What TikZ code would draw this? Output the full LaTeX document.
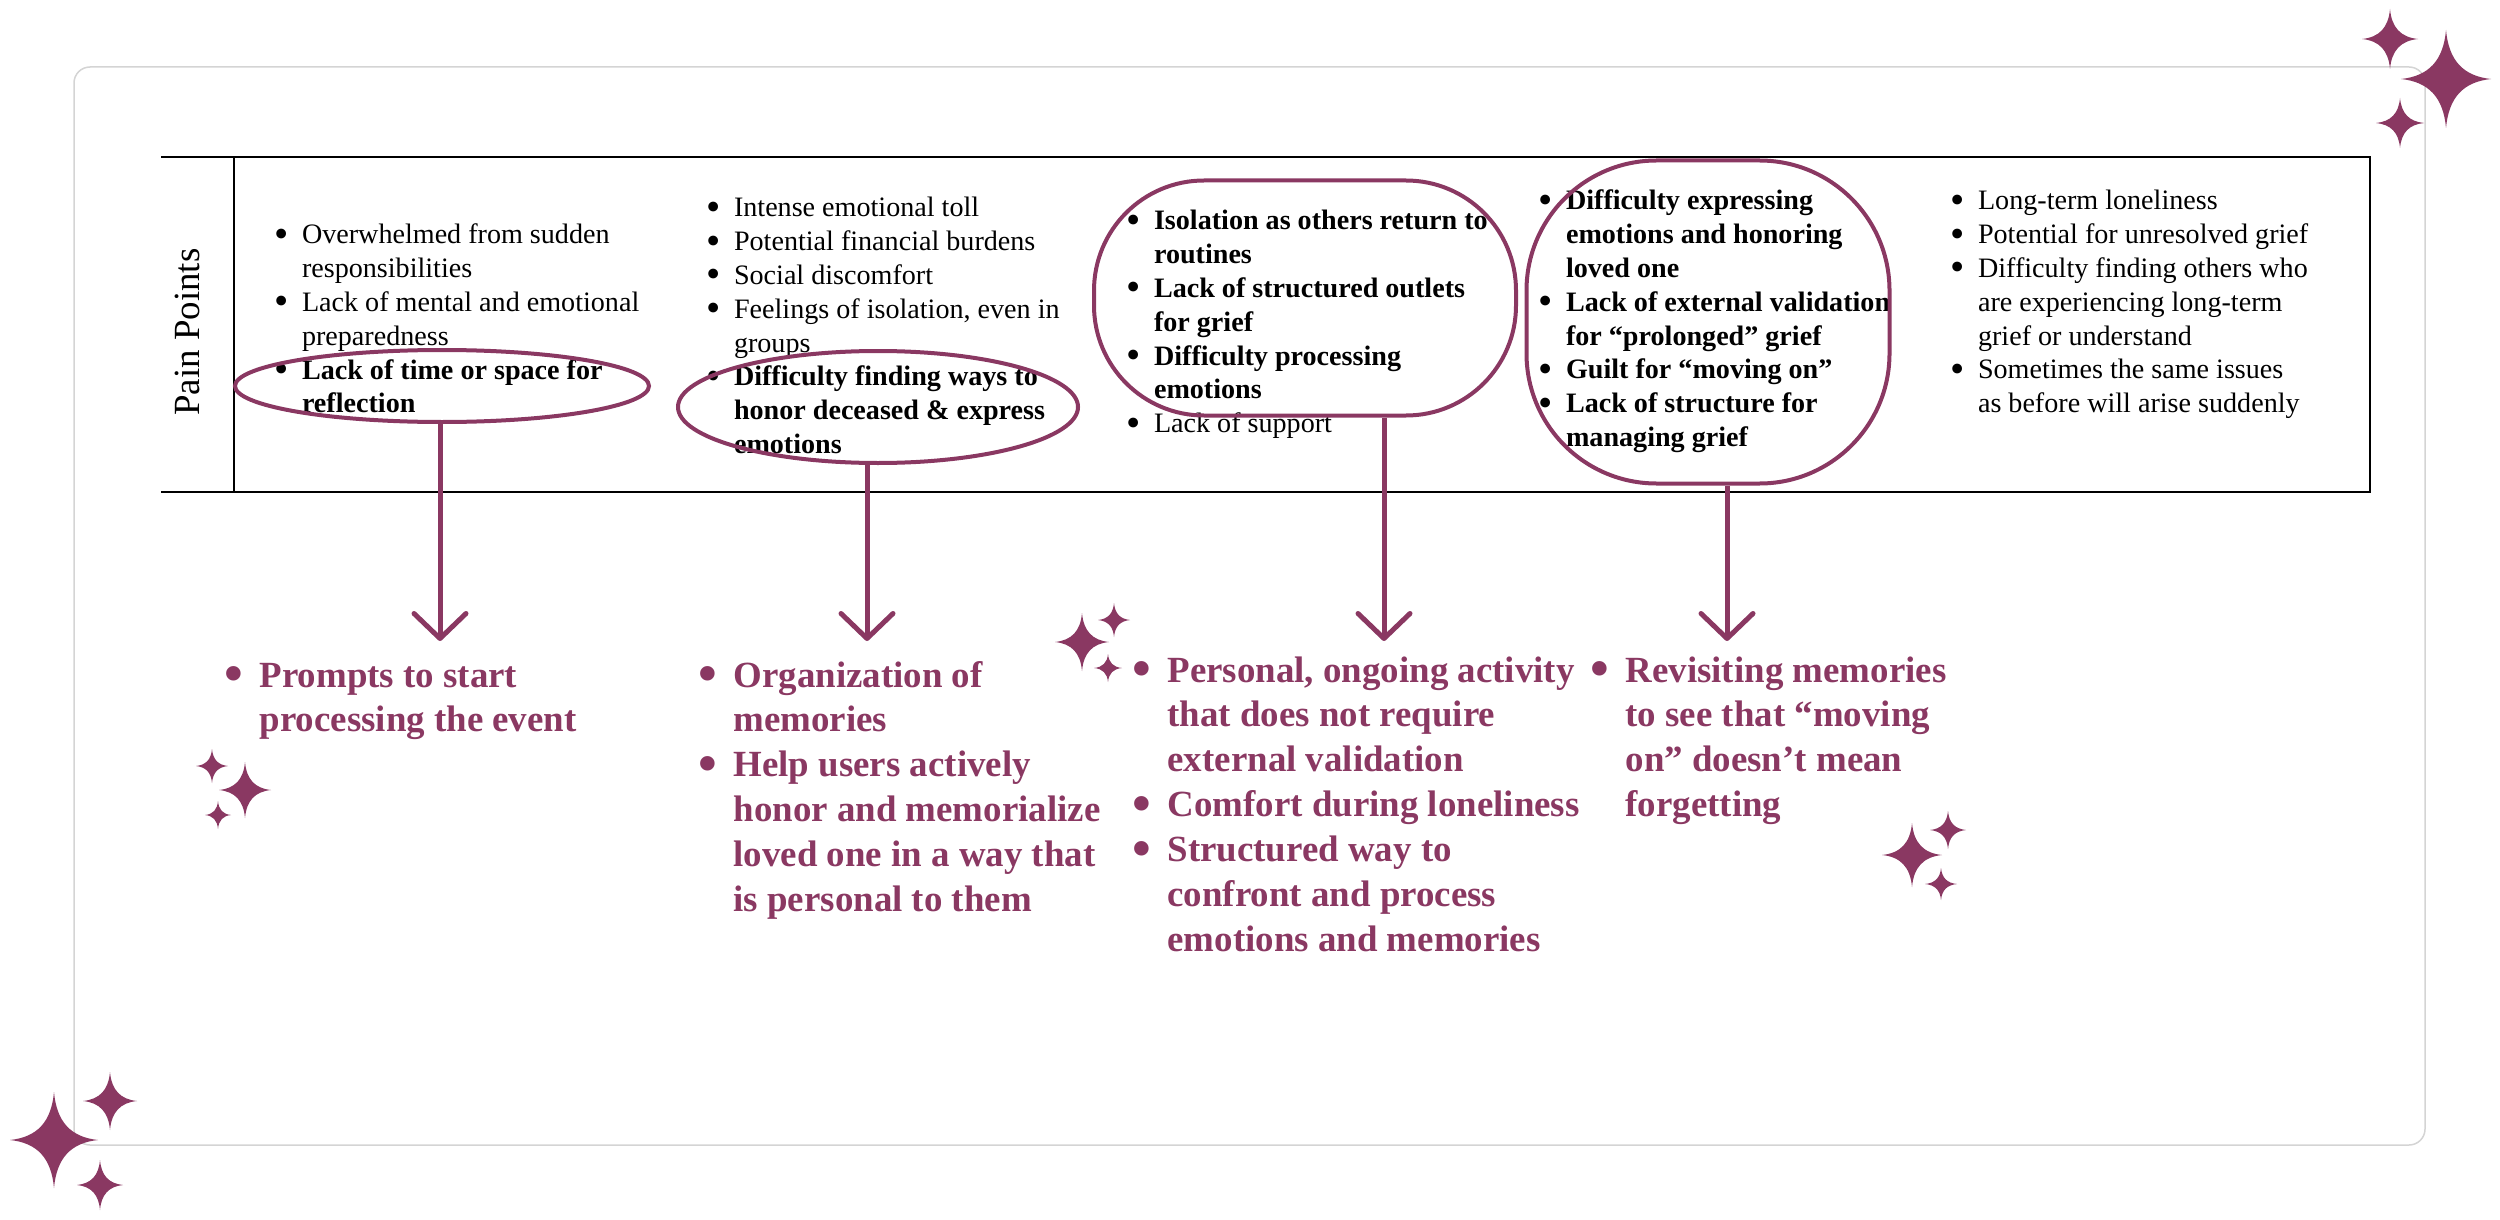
\documentclass[tikz,border=0pt]{standalone}
\usepackage{fontspec}
\setmainfont{Liberation Serif}
\usepackage{xcolor}
\usepackage{tikz}
\usetikzlibrary{arrows.meta,shapes.geometric}
\definecolor{griefPlum}{RGB}{138, 56, 98}
\definecolor{frameGray}{RGB}{212, 212, 212}

\newcommand{\bul}{\makebox[0.35em][c]{\raisebox{-0.12em}{\scalebox{1.45}{\textbullet}}}}
\newcommand{\painlist}[1]{\fontsize{16}{19.23}\selectfont\begin{tabular}[t]{@{}l@{\hspace{9pt}}l@{}}#1\end{tabular}}
\newcommand{\idealist}[1]{\fontsize{21}{25.6}\selectfont\bfseries\begin{tabular}[t]{@{}l@{\hspace{11pt}}l@{}}#1\end{tabular}}

\tikzset{sparkle/.pic={
  \fill[griefPlum] (0,1) .. controls (0.06,0.38) and (0.38,0.06) .. (1,0)
    .. controls (0.38,-0.06) and (0.06,-0.38) .. (0,-1)
    .. controls (-0.06,-0.38) and (-0.38,-0.06) .. (-1,0)
    .. controls (-0.38,0.06) and (-0.06,0.38) .. (0,1) -- cycle;
}}

\begin{document}
\begin{tikzpicture}[x=0.2mm, y=-0.2mm,
  ring/.style={draw=griefPlum, line width=0.8mm, inner sep=0},
  flow/.style={draw=griefPlum, line width=1mm, -{Straight Barb[length=5mm, width=10.4mm, round]}},
  pain/.style={anchor=base west, inner sep=0},
  idea/.style={anchor=base west, inner sep=0, text=griefPlum}]
\useasboundingbox (0,0) rectangle (2500,1220);

% Frame
\draw[frameGray, line width=0.3mm, rounded corners=3.2mm] (74,67) rectangle (2425,1145);

% Table
\draw[line width=0.35mm] (161,157) -- (2371,157);
\draw[line width=0.35mm] (161,492) -- (2371,492);
\draw[line width=0.25mm] (234,157) -- (234,492);
\draw[line width=0.25mm] (2370,157) -- (2370,492);
\node[rotate=90, font=\fontsize{21}{25}\selectfont] (painTitle) at (187,332) {Pain Points};

% Pain points
\node[pain] (pp1) at (276,244) {\painlist{
  \bul & Overwhelmed from sudden\\
   & responsibilities\\
  \bul & Lack of mental and emotional\\
   & preparedness\\
  \bul & \textbf{Lack of time or space for}\\
   & \textbf{reflection}}};
\node[pain] (pp2) at (708,217) {\painlist{
  \bul & Intense emotional toll\\
  \bul & Potential financial burdens\\
  \bul & Social discomfort\\
  \bul & Feelings of isolation, even in\\
   & groups\\
  \bul & \textbf{Difficulty finding ways to}\\
   & \textbf{honor deceased \& express}\\
   & \textbf{emotions}}};
\node[pain] (pp3) at (1128,230) {\painlist{
  \bul & \textbf{Isolation as others return to}\\
   & \textbf{routines}\\
  \bul & \textbf{Lack of structured outlets}\\
   & \textbf{for grief}\\
  \bul & \textbf{Difficulty processing}\\
   & \textbf{emotions}\\
  \bul & Lack of support}};
\node[pain] (pp4) at (1540,210) {\painlist{
  \bul & \textbf{Difficulty expressing}\\
   & \textbf{emotions and honoring}\\
   & \textbf{loved one}\\
  \bul & \textbf{Lack of external validation}\\
   & \textbf{for “prolonged” grief}\\
  \bul & \textbf{Guilt for “moving on”}\\
  \bul & \textbf{Lack of structure for}\\
   & \textbf{managing grief}}};
\node[pain] (pp5) at (1952,210) {\painlist{
  \bul & Long-term loneliness\\
  \bul & Potential for unresolved grief\\
  \bul & Difficulty finding others who\\
   & are experiencing long-term\\
   & grief or understand\\
  \bul & Sometimes the same issues\\
   & as before will arise suddenly}};

% Circled pain points
\node[ring, ellipse, minimum width=82.8mm, minimum height=14.4mm] (ring1) at (442,386) {};
\node[ring, ellipse, minimum width=80mm, minimum height=22.4mm] (ring2) at (878,407) {};
\node[ring, rectangle, rounded corners=22mm, minimum width=84.4mm, minimum height=47mm] (ring3) at (1305,298) {};
\node[ring, rectangle, rounded corners=26mm, minimum width=72.6mm, minimum height=64.6mm] (ring4) at (1708,322) {};

% Arrows
\coordinate (tip1) at (440,641);
\coordinate (tip2) at (867,641);
\coordinate (tip3) at (1384,641);
\coordinate (tip4) at (1727,641);
\draw[flow] (tip1 |- ring1.south) -- (tip1);
\draw[flow] (tip2 |- ring2.south) -- (tip2);
\draw[flow] (tip3 |- ring3.south) -- (tip3);
\draw[flow] (tip4 |- ring4.south) -- (tip4);

% Ideas
\node[idea] (idea1) at (227,687) {\idealist{
  \bul & Prompts to start\\
   & processing the event}};
\node[idea] (idea2) at (701,687) {\idealist{
  \bul & Organization of\\
   & memories\\
  \bul & Help users actively\\
   & honor and memorialize\\
   & loved one in a way that\\
   & is personal to them}};
\node[idea] (idea3) at (1135,682) {\idealist{
  \bul & Personal, ongoing activity\\
   & that does not require\\
   & external validation\\
  \bul & Comfort during loneliness\\
  \bul & Structured way to\\
   & confront and process\\
   & emotions and memories}};
\node[idea] (idea4) at (1593,682) {\idealist{
  \bul & Revisiting memories\\
   & to see that “moving\\
   & on” doesn’t mean\\
   & forgetting}};

% Sparkles
\pic[xscale=44, yscale=48] at (54,1140) {sparkle};
\pic[xscale=27, yscale=29] at (110,1101) {sparkle};
\pic[xscale=23, yscale=25] at (100,1185) {sparkle};
\pic[xscale=45, yscale=49] at (2446,79) {sparkle};
\pic[xscale=28, yscale=30] at (2390,39) {sparkle};
\pic[xscale=24, yscale=25] at (2400,123) {sparkle};
\pic[xscale=27, yscale=29] at (1082,642) {sparkle};
\pic[xscale=16, yscale=17] at (1114,620) {sparkle};
\pic[xscale=14, yscale=14] at (1108,668) {sparkle};
\pic[xscale=16, yscale=17] at (212,766) {sparkle};
\pic[xscale=26, yscale=28] at (245,790) {sparkle};
\pic[xscale=13, yscale=14] at (218,815) {sparkle};
\pic[xscale=18, yscale=19] at (1948,830) {sparkle};
\pic[xscale=30, yscale=32] at (1912,855) {sparkle};
\pic[xscale=16, yscale=16] at (1941,884) {sparkle};
\end{tikzpicture}
\end{document}
